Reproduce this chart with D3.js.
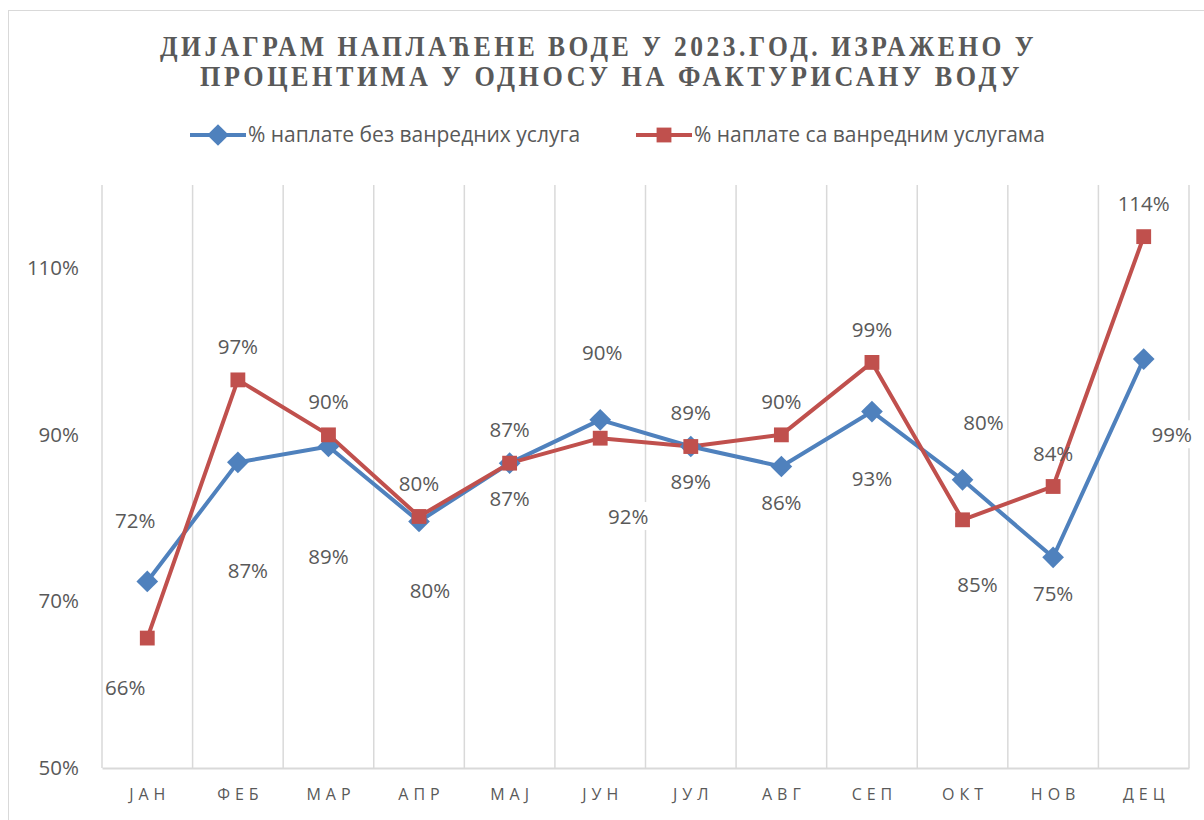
<!DOCTYPE html>
<html>
<head>
<meta charset="utf-8">
<script src="https://cdn.jsdelivr.net/npm/d3@7"></script>
<style>
  body { margin: 0; background: #fff; }
  svg { display: block; font-family: 'Open Sans', sans-serif; }
</style>
</head>
<body>
<svg id="chart"></svg>
<script>
const months = ['ЈАН', 'ФЕБ', 'МАР', 'АПР', 'МАЈ', 'ЈУН', 'ЈУЛ', 'АВГ', 'СЕП', 'ОКТ', 'НОВ', 'ДЕЦ'];
const withoutExtra = [72.4, 86.7, 88.6, 79.6, 86.6, 91.8, 88.6, 86.2, 92.8, 84.6, 75.3, 99.1];
const withExtra = [65.6, 96.6, 90.0, 80.2, 86.6, 89.6, 88.6, 90.0, 98.7, 79.8, 83.8, 113.8];
const yTicks = [50, 70, 90, 110];
const seriesNames = ['% наплате без ванредних услуга', '% наплате са ванредним услугама'];
const titleLines = [
  'ДИЈАГРАМ НАПЛАЋЕНЕ ВОДЕ У 2023.ГОД. ИЗРАЖЕНО У',
  'ПРОЦЕНТИМА У ОДНОСУ НА ФАКТУРИСАНУ ВОДУ'
];

// label offsets (px) from each point, as placed in the original
const blueNudge = [[-12, -61], [10, 108], [0, 110], [11, 69], [0, 36], [28, 97],
  [0, 35], [0, 36], [0, 67], [15, 105], [0, 37], [28, 76]];
const redNudge = [[-22, 50], [0, -33], [0, -33], [0, -33], [0, -33], [2, -85],
  [0, -34], [0, -33], [0, -33], [21, -97], [0, -33], [0, -33]];

const width = 1204;
const height = 820;
const margin = { top: 185, right: 15, bottom: 52, left: 102 };
const blue = '#4f81bd';
const red = '#c0504d';
const textColor = '#595959';

const svg = d3.select('#chart').attr('width', width).attr('height', height);

// outer chart border
svg.append('rect')
  .attr('x', 8.5).attr('y', 10.5)
  .attr('width', width).attr('height', height)
  .attr('fill', 'none')
  .attr('stroke', '#d9d9d9');

const x = d3.scaleBand()
  .domain(months)
  .range([margin.left, width - margin.right]);
const y = d3.scaleLinear()
  .domain([50, 120])
  .range([height - margin.bottom, margin.top]);

// vertical category gridlines
const gGrid = svg.append('g');
gGrid.selectAll('line')
  .data(months)
  .enter().append('line')
    .attr('x1', d => x(d) + x.bandwidth())
    .attr('x2', d => x(d) + x.bandwidth())
    .attr('y1', y(120))
    .attr('y2', y(50))
    .attr('stroke', '#d9d9d9')
    .attr('stroke-width', 1.5);
gGrid.append('line')
  .attr('x1', margin.left).attr('x2', margin.left)
  .attr('y1', y(120)).attr('y2', y(50))
  .attr('stroke', '#d9d9d9').attr('stroke-width', 1.5);

// x axis
const xAxis = svg.append('g')
  .attr('transform', `translate(0, ${y(50)})`)
  .call(d3.axisBottom(x).tickSize(0).tickPadding(21));
xAxis.select('.domain')
  .attr('stroke', '#d9d9d9').attr('stroke-width', 2);
xAxis.selectAll('text')
  .attr('fill', textColor)
  .attr('font-size', 16)
  .attr('letter-spacing', '5px')
  .attr('dx', '2.5px')
  .attr('font-family', "'Open Sans', sans-serif");

// y axis labels
const yAxis = svg.append('g')
  .attr('transform', `translate(${margin.left}, 0)`)
  .call(d3.axisLeft(y).tickValues(yTicks).tickSize(0).tickPadding(23).tickFormat(d => d + '%'));
yAxis.select('.domain').remove();
yAxis.selectAll('text')
  .attr('fill', textColor)
  .attr('font-size', 20.5)
  .attr('font-family', "'Open Sans', sans-serif");

const series = [
  { name: seriesNames[0], values: withoutExtra, color: blue, nudge: blueNudge, shape: d3.symbolDiamond2, size: 300 },
  { name: seriesNames[1], values: withExtra, color: red, nudge: redNudge, shape: d3.symbolSquare2, size: 280 }
];

// data labels (white box behind, drawn under the lines)
const labels = [];
series.forEach(s => {
  s.values.forEach((v, i) => {
    labels.push({
      x: x(months[i]) + x.bandwidth() / 2 + s.nudge[i][0],
      y: y(v) + s.nudge[i][1],
      text: Math.round(v) + '%'
    });
  });
});
const gLabelBg = svg.append('g');

const line = d3.line()
  .x((d, i) => x(months[i]) + x.bandwidth() / 2)
  .y(d => y(d));

series.forEach(s => {
  svg.append('path')
    .datum(s.values)
    .attr('fill', 'none')
    .attr('stroke', s.color)
    .attr('stroke-width', 4)
    .attr('stroke-linejoin', 'round')
    .attr('d', line);
});

series.forEach(s => {
  svg.append('g').selectAll('path')
    .data(s.values)
    .enter().append('path')
      .attr('transform', (d, i) => `translate(${x(months[i]) + x.bandwidth() / 2}, ${y(d)})`)
      .attr('d', d3.symbol().type(s.shape).size(s.size))
      .attr('fill', s.color);
});

const labelText = svg.append('g').selectAll('text')
  .data(labels)
  .enter().append('text')
    .attr('x', d => d.x)
    .attr('y', d => d.y)
    .attr('dy', '0.35em')
    .attr('text-anchor', 'middle')
    .attr('fill', textColor)
    .attr('font-size', 20.5)
    .text(d => d.text);

labelText.each(function () {
  const b = this.getBBox();
  gLabelBg.append('rect')
    .attr('x', b.x - 2).attr('y', b.y)
    .attr('width', b.width + 4).attr('height', b.height)
    .attr('fill', '#fff');
});

// title
titleLines.forEach((t, i) => {
  const tx = [160, 200][i];
  const ty = [56, 86][i];
  svg.append('text')
    .attr('transform', `translate(${tx}, ${ty}) scale(1, 1.3)`)
    .attr('textLength', [877, 823][i])
    .attr('lengthAdjust', 'spacingAndGlyphs')
    .attr('letter-spacing', '3px')
    .attr('font-family', "'Liberation Serif', serif")
    .attr('font-weight', 'bold')
    .attr('font-size', 22)
    .attr('fill', textColor)
    .text(t);
});

// legend
const legendY = 135;
const legendItems = [
  { s: series[0], x1: 190 },
  { s: series[1], x1: 636 }
];
legendItems.forEach(item => {
  const g = svg.append('g');
  g.append('line')
    .attr('x1', item.x1).attr('x2', item.x1 + 56)
    .attr('y1', legendY).attr('y2', legendY)
    .attr('stroke', item.s.color)
    .attr('stroke-width', 4);
  g.append('path')
    .attr('transform', `translate(${item.x1 + 28}, ${legendY})`)
    .attr('d', d3.symbol().type(item.s.shape).size(item.s.size))
    .attr('fill', item.s.color);
  g.append('text')
    .attr('x', item.x1 + 58)
    .attr('y', legendY)
    .attr('dy', '0.35em')
    .attr('fill', textColor)
    .attr('font-size', 21)
    .text(item.s.name);
});
</script>
</body>
</html>
